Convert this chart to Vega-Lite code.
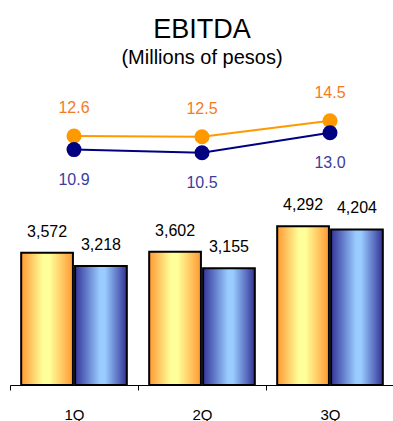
{
  "$schema": "https://vega.github.io/schema/vega-lite/v6.json",
  "autosize": "none",
  "width": 384,
  "height": 300,
  "padding": {"left": 10, "top": 85, "right": 0, "bottom": 36},
  "background": "white",
  "config": {"view": {"stroke": null}, "font": "Liberation Sans"},
  "title": {
    "text": "EBITDA",
    "subtitle": "(Millions of pesos)",
    "font": "Liberation Sans",
    "subtitleFont": "Liberation Sans",
    "fontSize": 27,
    "subtitleFontSize": 20,
    "fontWeight": "normal",
    "color": "#000000",
    "subtitleColor": "#000000",
    "anchor": "middle",
    "frame": "bounds",
    "offset": 16,
    "subtitlePadding": 4
  },
  "data": {
    "values": [
      {"q": "1Q", "series": "S1", "ebitda": 3572, "margin": 12.6},
      {"q": "1Q", "series": "S2", "ebitda": 3218, "margin": 10.9},
      {"q": "2Q", "series": "S1", "ebitda": 3602, "margin": 12.5},
      {"q": "2Q", "series": "S2", "ebitda": 3155, "margin": 10.5},
      {"q": "3Q", "series": "S1", "ebitda": 4292, "margin": 14.5},
      {"q": "3Q", "series": "S2", "ebitda": 4204, "margin": 13.0}
    ]
  },
  "encoding": {
    "x": {
      "field": "q",
      "type": "nominal",
      "scale": {"paddingInner": 0, "paddingOuter": 0},
      "axis": {
        "title": null,
        "labelAngle": 0,
        "domainColor": "#000000",
        "domainWidth": 1,
        "tickColor": "#000000",
        "tickSize": 5,
        "tickBand": "extent",
        "labelFont": "Liberation Sans",
        "labelFontSize": 15,
        "labelColor": "#000000",
        "labelPadding": 17,
        "grid": false
      }
    }
  },
  "layer": [
    {
      "transform": [{"filter": "datum.series === 'S1'"}],
      "mark": {
        "type": "bar",
        "stroke": "#000000",
        "strokeWidth": 2,
        "fill": {
          "gradient": "linear", "x1": 0, "y1": 0, "x2": 1, "y2": 0,
          "stops": [
            {"offset": 0, "color": "#FF9933"},
            {"offset": 0.42, "color": "#FFFF99"},
            {"offset": 0.55, "color": "#FFFF99"},
            {"offset": 1, "color": "#FF9933"}
          ]
        }
      },
      "encoding": {
        "xOffset": {"field": "series", "type": "nominal", "scale": {"domain": ["S1", "S2"], "paddingOuter": 0.2075, "paddingInner": 0.04}},
        "y": {"field": "ebitda", "type": "quantitative", "scale": {"domain": [0, 8108], "nice": false}, "axis": null}
      }
    },
    {
      "transform": [{"filter": "datum.series === 'S2'"}],
      "mark": {
        "type": "bar",
        "stroke": "#000000",
        "strokeWidth": 2,
        "fill": {
          "gradient": "linear", "x1": 0, "y1": 0, "x2": 1, "y2": 0,
          "stops": [
            {"offset": 0, "color": "#333399"},
            {"offset": 0.48, "color": "#99CCFF"},
            {"offset": 0.58, "color": "#99CCFF"},
            {"offset": 1, "color": "#333399"}
          ]
        }
      },
      "encoding": {
        "xOffset": {"field": "series", "type": "nominal", "scale": {"domain": ["S1", "S2"], "paddingOuter": 0.2075, "paddingInner": 0.04}},
        "y": {"field": "ebitda", "type": "quantitative", "scale": {"domain": [0, 8108], "nice": false}, "axis": null}
      }
    },
    {
      "mark": {"type": "text", "baseline": "middle", "dy": -21, "fontSize": 16, "font": "Liberation Sans", "color": "#000000"},
      "encoding": {
        "xOffset": {"field": "series", "type": "nominal", "scale": {"domain": ["S1", "S2"], "paddingOuter": 0.2075, "paddingInner": 0.04}},
        "y": {"field": "ebitda", "type": "quantitative", "scale": {"domain": [0, 8108], "nice": false}, "axis": null},
        "text": {"field": "ebitda", "type": "quantitative", "format": ","}
      }
    },
    {
      "layer": [
        {
          "mark": {"type": "line", "strokeWidth": 2},
          "encoding": {
            "y": {"field": "margin", "type": "quantitative", "scale": {"domain": [-18.525, 18.975], "nice": false, "zero": false}, "axis": null},
            "color": {"field": "series", "type": "nominal", "scale": {"domain": ["S1", "S2"], "range": ["#FF9900", "#000080"]}, "legend": null}
          }
        },
        {
          "mark": {"type": "point", "filled": true, "size": 225, "opacity": 1},
          "encoding": {
            "y": {"field": "margin", "type": "quantitative", "scale": {"domain": [-18.525, 18.975], "nice": false, "zero": false}, "axis": null},
            "color": {"field": "series", "type": "nominal", "scale": {"domain": ["S1", "S2"], "range": ["#FF9900", "#000080"]}, "legend": null}
          }
        },
        {
          "transform": [{"filter": "datum.series === 'S1'"}],
          "mark": {"type": "text", "baseline": "middle", "dy": -28, "fontSize": 16, "font": "Liberation Sans", "color": "#F57A1E"},
          "encoding": {
            "y": {"field": "margin", "type": "quantitative", "scale": {"domain": [-18.525, 18.975], "nice": false, "zero": false}, "axis": null},
            "text": {"field": "margin", "type": "quantitative", "format": ".1f"}
          }
        },
        {
          "transform": [{"filter": "datum.series === 'S2'"}],
          "mark": {"type": "text", "baseline": "middle", "dy": 30, "fontSize": 16, "font": "Liberation Sans", "color": "#3C3CA0"},
          "encoding": {
            "y": {"field": "margin", "type": "quantitative", "scale": {"domain": [-18.525, 18.975], "nice": false, "zero": false}, "axis": null},
            "text": {"field": "margin", "type": "quantitative", "format": ".1f"}
          }
        }
      ]
    }
  ],
  "resolve": {"scale": {"y": "independent"}}
}
